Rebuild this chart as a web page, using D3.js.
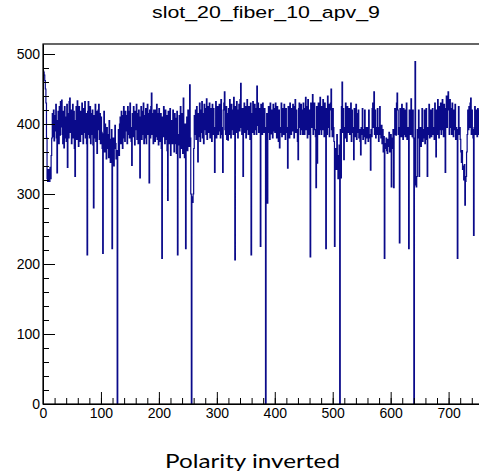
<!DOCTYPE html>
<html lang="en">
<head>
<meta charset="UTF-8">
<title>slot_20_fiber_10_apv_9</title>
<script src="https://cdn.jsdelivr.net/npm/d3@7"></script>
<style>
  body { margin: 0; background: #fff; }
  svg { display: block; }
  .tick text { font-family: "Liberation Sans", Arial, sans-serif; font-size: 14px; fill: #000; }
  .tick line { stroke: #000; }
</style>
</head>
<body>
<svg width="479" height="476"></svg>
<script>
  // channel values, 6 blocks of 128 channels
  const block0 = [
    476,474,470,462,450,430,380,322,318,335,320,318,338,322,355,380,
    415,382,420,376,412,390,428,380,330,405,418,372,425,384,432,396,
    434,385,372,418,366,425,380,410,375,428,338,415,380,432,437,388,
    420,372,410,428,380,418,365,325,405,425,378,433,395,368,425,392,
    375,418,385,430,395,372,422,388,432,380,415,372,213,418,432,385,
    380,425,372,415,385,420,370,280,412,380,428,375,418,358,392,420,
    428,378,415,372,410,388,365,215,386,418,360,400,375,350,395,365,
    385,352,405,368,345,378,392,222,355,380,340,365,398,372,350,362
  ];
  const block1 = [
    0,360,392,355,400,410,372,418,395,365,412,425,380,375,418,390,
    412,372,425,385,418,380,430,395,375,341,415,382,425,388,370,418,
    392,428,378,415,372,420,385,323,410,425,378,418,385,430,372,412,
    380,422,372,410,428,385,415,316,420,380,425,444,385,415,372,420,
    392,375,420,382,428,378,415,370,422,385,375,415,365,208,410,382,
    425,385,372,420,378,412,362,291,418,382,372,422,355,405,392,372,
    420,378,360,415,372,408,358,418,213,385,370,412,352,425,378,365,
    415,358,437,385,352,400,222,372,410,362,420,385,368,456,380,300
  ];
  const block2 = [
    0,296,288,300,365,412,385,420,378,425,390,346,415,382,430,375,
    420,388,432,380,415,372,428,392,422,385,436,378,418,425,388,430,
    380,422,392,375,428,385,422,395,331,388,432,380,418,425,385,412,
    428,390,380,435,395,385,331,420,430,446,392,385,425,378,415,377,
    422,385,435,396,380,428,392,420,385,438,394,206,425,388,432,395,
    380,420,428,390,435,458,395,385,422,325,398,430,388,425,380,420,
    435,392,385,425,398,378,430,213,415,388,432,400,385,428,392,422,
    385,454,398,430,388,422,395,225,428,392,385,430,400,388,422,395
  ];
  const block3 = [
    0,382,415,287,388,425,392,378,430,386,420,395,380,428,390,422,
    388,430,395,380,425,392,375,420,366,395,388,430,382,422,395,385,
    428,392,378,422,395,388,337,425,392,380,430,398,385,422,390,428,
    395,380,425,435,388,420,392,375,349,422,430,395,385,428,392,420,
    385,430,398,385,422,438,392,425,380,435,398,385,420,210,430,395,
    422,442,385,420,430,392,382,309,425,344,395,430,385,422,438,392,
    385,425,392,435,420,382,430,395,222,422,385,440,395,428,382,420,
    430,450,392,382,422,395,375,225,365,350,335,385,355,322,342,370
  ];
  const block4 = [
    0,392,323,425,460,388,422,349,395,380,430,392,375,425,388,415,
    422,385,392,430,375,420,388,395,349,422,382,392,428,378,415,388,
    420,380,392,375,356,395,385,422,378,392,382,420,372,395,385,380,
    395,375,420,385,380,334,392,382,422,430,395,446,385,420,380,395,
    385,422,392,375,395,425,385,380,398,372,392,360,382,208,372,365,
    380,362,358,378,368,388,360,372,385,310,365,380,392,309,385,422,
    395,384,430,444,420,385,395,230,422,392,382,428,395,378,422,385,
    420,382,392,430,378,395,385,222,420,392,385,436,395,382,420,380
  ];
  const block5 = [
    0,313,489,318,310,325,392,380,420,325,378,395,368,385,422,375,
    392,380,420,372,388,422,378,325,395,385,428,380,395,420,382,392,
    422,385,395,378,430,392,353,420,385,435,395,380,425,392,430,385,
    420,435,392,382,428,395,331,422,440,395,430,446,420,385,435,395,
    422,385,430,395,382,420,392,428,378,395,385,208,392,425,385,395,
    378,360,345,362,335,340,320,342,284,318,325,360,385,420,392,425,
    395,430,437,385,420,392,380,241,395,425,385,420,392,382,422,395,
    385,420,392,425,382,395,422,385,395,380,420,392,385,395,382,400
  ];

  const xTicks = [0, 100, 200, 300, 400, 500, 600, 700];
  const yTicks = [0, 100, 200, 300, 400, 500];
  const title = "slot_20_fiber_10_apv_9";
  const caption = "Polarity inverted";

  const counts = [].concat(block0, block1, block2, block3, block4, block5);
  const nBins = 768;

  const svg = d3.select("svg");

  const x = d3.scaleLinear().domain([0, nBins]).range([43, 488]);
  const y = d3.scaleLinear().domain([0, 514.3]).range([404, 44]);

  // histogram outline (step)
  const pts = counts.map((v, i) => [i, v]);
  pts.push([counts.length, counts[counts.length - 1]]);
  const line = d3.line()
    .x(d => x(d[0]))
    .y(d => y(d[1]))
    .curve(d3.curveStepAfter);

  svg.append("path")
    .datum(pts)
    .attr("d", line)
    .attr("fill", "none")
    .attr("stroke", "#0a0a8a")
    .attr("stroke-width", 1.2);

  // frame
  svg.append("rect")
    .attr("x", x(0)).attr("y", y.range()[1])
    .attr("width", x(nBins) - x(0)).attr("height", y(0) - y.range()[1])
    .attr("fill", "none").attr("stroke", "#000").attr("stroke-width", 1.2);

  // y axis, ticks pointing inward
  const gy = svg.append("g").attr("transform", `translate(${x(0)},0)`)
    .call(d3.axisLeft(y).tickValues(yTicks).tickSizeInner(-12).tickSizeOuter(0).tickPadding(3));
  gy.select(".domain").attr("stroke", "#000");
  svg.append("g").attr("transform", `translate(${x(0)},0)`)
    .call(d3.axisLeft(y).tickValues(d3.range(0, 501, 20)).tickSizeInner(-6).tickSizeOuter(0).tickFormat(""))
    .select(".domain").remove();

  // x axis
  const gx = svg.append("g").attr("transform", `translate(0,${y(0)})`)
    .call(d3.axisBottom(x).tickValues(xTicks).tickSizeInner(-12).tickSizeOuter(0).tickPadding(4));
  gx.select(".domain").attr("stroke", "#000");
  svg.append("g").attr("transform", `translate(0,${y(0)})`)
    .call(d3.axisBottom(x).tickValues(d3.range(0, 761, 20)).tickSizeInner(-6).tickSizeOuter(0).tickFormat(""))
    .select(".domain").remove();

  // title
  svg.append("text")
    .attr("x", 266).attr("y", 18)
    .attr("text-anchor", "middle")
    .attr("font-family", "Liberation Sans, Arial, sans-serif")
    .attr("font-size", 17)
    .attr("textLength", 228)
    .attr("lengthAdjust", "spacingAndGlyphs")
    .text(title);

  // caption under the chart
  svg.append("text")
    .attr("x", 252.5).attr("y", 468)
    .attr("text-anchor", "middle")
    .attr("font-family", "Lato, 'Open Sans', sans-serif")
    .attr("font-size", 19)
    .attr("textLength", 175)
    .attr("lengthAdjust", "spacingAndGlyphs")
    .text(caption);
</script>
</body>
</html>
